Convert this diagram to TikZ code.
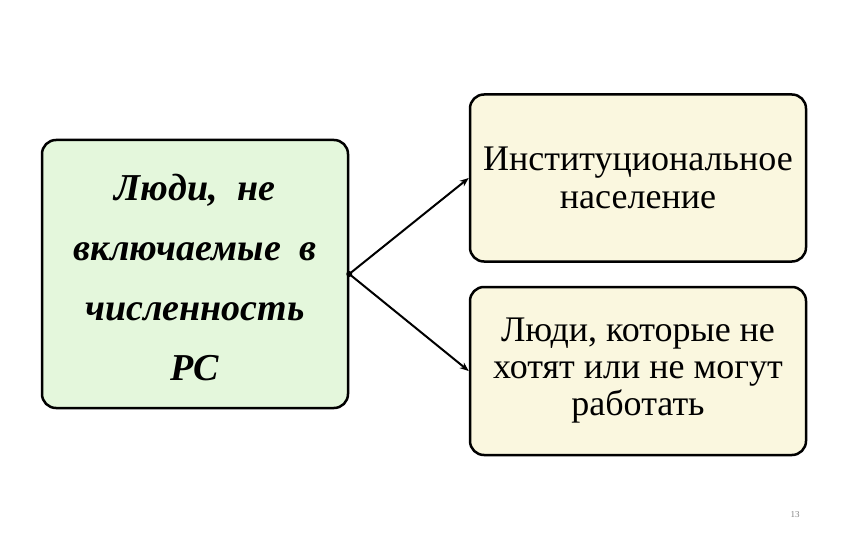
\documentclass[tikz,border=0pt]{standalone}
\usepackage{fontspec}
\setmainfont{Liberation Serif}
\usetikzlibrary{arrows.meta}
\definecolor{lgreen}{HTML}{E4F7DC}
\definecolor{lcream}{HTML}{FAF7DF}
\tikzset{
 box/.style={draw=black,line width=2.5pt,rounded corners=14pt,align=center,inner sep=0pt},
 conn/.style={line width=2pt,-{Stealth[length=9pt,width=7pt]}}
}
\begin{document}
\begin{tikzpicture}[x=1pt,y=-1pt]
\useasboundingbox (0,0) rectangle (851,540);
\node[box,fill=lgreen,minimum width=306pt,minimum height=268pt] (L) at (195,274) {};
\node[font=\fontsize{38}{60}\selectfont\bfseries\itshape,align=center] (Lt) at (195,278) {Люди,\ \ не\\включаемые\ \ в\\численность\\РС};
\node[box,fill=lcream,minimum width=336pt,minimum height=167pt,font=\fontsize{36}{38}\selectfont] (T) at (638,178) {Институциональное\\население};
\node[box,fill=lcream,minimum width=336pt,minimum height=168pt,font=\fontsize{36}{37}\selectfont] (B) at (638,371) {Люди, которые не\\хотят или не могут\\работать};
\coordinate (s) at (L.east);
\fill (s) circle (3pt);
\draw[conn] (s) -- (T.west);
\draw[conn] (s) -- (B.west);
\node[font=\fontsize{9}{9}\selectfont,text=gray] (n) at (795,515) {13};
\end{tikzpicture}
\end{document}
